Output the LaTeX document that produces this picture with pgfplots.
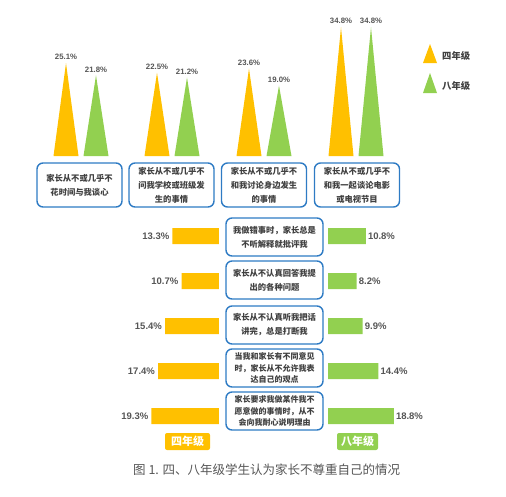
\documentclass[border=0pt]{standalone}
\usepackage{pgfplots}
\pgfplotsset{compat=1.18}
\usepackage{fontspec}
\setmainfont{Noto Sans CJK SC}
\newfontfamily\latinf{Liberation Sans}
\definecolor{org}{HTML}{FFC000}
\definecolor{grn}{HTML}{92D050}
\definecolor{bbl}{HTML}{2E7BC4}
\definecolor{txt}{HTML}{404040}
\definecolor{num}{HTML}{555555}
\begin{document}
\begin{tikzpicture}[x=1pt,y=1pt,
  tbox/.style={draw=bbl, line width=1.4pt, rounded corners=6pt, fill=white,
    minimum width=85pt, minimum height=44pt, align=center, text=txt,
    font=\fontsize{8.3}{14}\selectfont\bfseries, inner sep=0pt},
  bbox/.style={draw=bbl, line width=1.4pt, rounded corners=6pt, fill=white,
    minimum width=97pt, minimum height=38pt, align=center, text=txt,
    font=\fontsize{8.3}{14}\selectfont\bfseries, inner sep=0pt},
  bbox3/.style={bbox, font=\fontsize{8}{11.5}\selectfont\bfseries}]
\path[use as bounding box] (0,0) rectangle (506,-496);

% ---------- top: triangles ----------
\begin{axis}[at={(253pt,-82pt)}, anchor=center, scale only axis,
  width=506pt, height=148pt, xmin=0, xmax=506, ymin=0, ymax=40,
  hide axis, clip=false,
  /pgf/number format/assume math mode=true]
% 四年级
\addplot[draw=none, fill=org] coordinates {(53.5,0) (66,25.1) (78.5,0)} -- cycle;
\addplot[draw=none, fill=org] coordinates {(144.5,0) (157,22.5) (169.5,0)} -- cycle;
\addplot[draw=none, fill=org] coordinates {(236.5,0) (249,23.6) (261.5,0)} -- cycle;
\addplot[draw=none, fill=org] coordinates {(328.5,0) (341,34.8) (353.5,0)} -- cycle;
% 八年级
\addplot[draw=none, fill=grn] coordinates {(83.5,0) (96,21.8) (108.5,0)} -- cycle;
\addplot[draw=none, fill=grn] coordinates {(174.5,0) (187,21.2) (199.5,0)} -- cycle;
\addplot[draw=none, fill=grn] coordinates {(266.5,0) (279,19.0) (291.5,0)} -- cycle;
\addplot[draw=none, fill=grn] coordinates {(358.5,0) (371,34.8) (383.5,0)} -- cycle;
% value labels
\addplot[draw=none, mark=none, point meta=y,
  nodes near coords={\pgfmathprintnumber[fixed,precision=1,fixed zerofill]{\pgfplotspointmeta}\%},
  every node near coord/.append style={anchor=south, yshift=2pt, inner sep=1pt,
    font=\latinf\bfseries\fontsize{7.8}{9}\selectfont, text=num}]
  coordinates {(66,25.1) (157,22.5) (249,23.6) (341,34.8)
               (96,21.8) (187,21.2) (279,19.0) (371,34.8)};
\end{axis}

% legend
\fill[org] (423,-63) -- (430,-44) -- (437,-63) -- cycle;
\fill[grn] (423,-93) -- (430,-73) -- (437,-93) -- cycle;
\node[anchor=west, inner sep=0pt, text=txt, font=\fontsize{9.3}{11}\selectfont\bfseries] at (442,-56) {四年级};
\node[anchor=west, inner sep=0pt, text=txt, font=\fontsize{9.3}{11}\selectfont\bfseries] at (442,-86) {八年级};

% top boxes
\node[tbox] at (79.5,-185) {家长从不或几乎不\\花时间与我谈心};
\node[tbox] at (171.5,-185) {家长从不或几乎不\\问我学校或班级发\\生的事情};
\node[tbox] at (264,-185) {家长从不或几乎不\\和我讨论身边发生\\的事情};
\node[tbox] at (357,-185) {家长从不或几乎不\\和我一起谈论电影\\或电视节目};

% ---------- bottom: horizontal bars ----------
\begin{axis}[at={(114pt,-326pt)}, anchor=center, scale only axis,
  width=210pt, height=225pt, xmin=0, xmax=60, ymin=0.5, ymax=5.5,
  x dir=reverse, y dir=reverse, xbar, bar width=16pt,
  hide axis, clip=false,
  /pgf/number format/assume math mode=true,
  point meta=x,
  nodes near coords={\pgfmathprintnumber[fixed,precision=1,fixed zerofill]{\pgfplotspointmeta}\%},
  every node near coord/.append style={anchor=east, inner sep=3pt,
    font=\latinf\bfseries\fontsize{9.5}{11}\selectfont, text=num}]
\addplot[draw=none, fill=org] coordinates {(13.3,1) (10.7,2) (15.4,3) (17.4,4) (19.3,5)};
\end{axis}

\begin{axis}[at={(433pt,-326pt)}, anchor=center, scale only axis,
  width=210pt, height=225pt, xmin=0, xmax=60, ymin=0.5, ymax=5.5,
  y dir=reverse, xbar, bar width=16pt,
  hide axis, clip=false,
  /pgf/number format/assume math mode=true,
  point meta=x,
  nodes near coords={\pgfmathprintnumber[fixed,precision=1,fixed zerofill]{\pgfplotspointmeta}\%},
  every node near coord/.append style={anchor=west, inner sep=2pt,
    font=\latinf\bfseries\fontsize{9.5}{11}\selectfont, text=num}]
\addplot[draw=none, fill=grn] coordinates {(10.8,1) (8.2,2) (9.9,3) (14.4,4) (18.8,5)};
\end{axis}

% central boxes
\node[bbox]  at (274.5,-237) {我做错事时，家长总是\\不听解释就批评我};
\node[bbox]  at (274.5,-280) {家长从不认真回答我提\\出的各种问题};
\node[bbox]  at (274.5,-325) {家长从不认真听我把话\\讲完，总是打断我};
\node[bbox3] at (274.5,-368) {当我和家长有不同意见\\时，家长从不允许我表\\达自己的观点};
\node[bbox3] at (274.5,-411) {家长要求我做某件我不\\愿意做的事情时，从不\\会向我耐心说明理由};

% badges
\node[fill=org, rounded corners=2pt, minimum width=45pt, minimum height=17pt, inner sep=0pt,
  text=white, font=\fontsize{11}{13}\selectfont\bfseries] at (187.5,-441.5) {四年级};
\node[fill=grn, rounded corners=2pt, minimum width=41pt, minimum height=17pt, inner sep=0pt,
  text=white, font=\fontsize{11}{13}\selectfont\bfseries] at (357.5,-441.5) {八年级};

% caption
\node[anchor=west, inner sep=0pt, text=num, font=\fontsize{12.5}{14}\selectfont] at (133,-470)
  {图 1. 四、八年级学生认为家长不尊重自己的情况};
\end{tikzpicture}
\end{document}
